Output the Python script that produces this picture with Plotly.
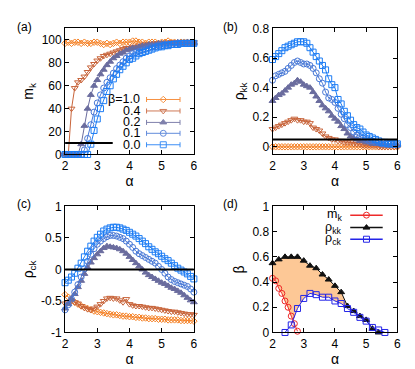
import numpy as np
import plotly.graph_objects as go

# ---------------- data ----------------
alpha = [2.0, 2.1, 2.2, 2.3, 2.4, 2.5, 2.6, 2.7, 2.8, 2.9, 3.0, 3.1, 3.2, 3.3, 3.4, 3.5, 3.6, 3.7, 3.8, 3.9,
         4.0, 4.1, 4.2, 4.3, 4.4, 4.5, 4.6, 4.7, 4.8, 4.9, 5.0, 5.1, 5.2, 5.3, 5.4, 5.5, 5.6, 5.7, 5.8, 5.9, 6.0]
betas = ["1.0", "0.4", "0.2", "0.1", "0.0"]

# (a) m_k
mk_b10 = [97, 98, 97, 98, 98, 97, 98, 97, 97, 98, 98, 97, 96, 97, 96, 97, 98, 97, 98, 98,
          98, 99, 99, 98, 98, 97, 98, 98, 98, 97, 98, 98, 99, 98, 98, 97, 98, 98, 98, 97, 97]
mk_b04 = [0, 0, 40, 58, 63, 65, 68, 72, 76, 79, 82, 84, 86, 87, 88, 89, 90, 91, 92, 93,
          93, 94, 94, 95, 95, 96, 96, 96, 97, 97, 97, 97, 97, 98, 97, 98, 98, 97, 98, 98, 98]
mk_b02 = [0, 0, 0, 0, 0, 9, 25, 40, 52, 60, 65, 70, 74, 78, 81, 84, 86, 88, 89, 91,
          92, 93, 93, 94, 95, 95, 96, 96, 96, 97, 97, 97, 97, 97, 97, 98, 97, 97, 98, 97, 97]
mk_b01 = [0, 0, 0, 0, 0, 0, 4, 14, 26, 37, 45, 52, 58, 63, 67, 71, 75, 78, 81, 84,
          86, 88, 89, 90, 91, 92, 93, 94, 94, 95, 95, 96, 96, 96, 97, 97, 97, 97, 97, 97, 97]
mk_b00 = [0, 0, 0, 0, 0, 0, 0, 0, 9, 21, 31, 40, 47, 55, 60, 66, 70, 74, 77, 80,
          83, 84, 86, 88, 89, 90, 91, 92, 93, 94, 94, 95, 95, 96, 96, 96, 97, 97, 97, 97, 97]
mk_threshold = 10
mk_threshold_end = 3.48

# (b) rho_kk
rkk_b10 = [0.0] * 41
rkk_b04 = [0.12, 0.13, 0.14, 0.15, 0.16, 0.17, 0.18, 0.19, 0.18, 0.18, 0.17, 0.17, 0.16, 0.13, 0.12, 0.11, 0.09, 0.07, 0.06, 0.05,
           0.05, 0.04, 0.04, 0.03, 0.03, 0.03, 0.02, 0.02, 0.02, 0.01, 0.01, 0.01, 0.01, 0.01, 0.0, 0.0, 0.0, 0.0, 0.0, 0.0, 0.0]
rkk_b02 = [0.31, 0.33, 0.35, 0.36, 0.38, 0.40, 0.42, 0.43, 0.45, 0.44, 0.42, 0.41, 0.40, 0.37, 0.34, 0.31, 0.28, 0.26, 0.24, 0.21,
           0.19, 0.17, 0.14, 0.12, 0.09, 0.07, 0.06, 0.05, 0.04, 0.04, 0.03, 0.03, 0.02, 0.02, 0.02, 0.015, 0.01, 0.01, 0.01, 0.01, 0.01]
rkk_b01 = [0.45, 0.48, 0.49, 0.50, 0.51, 0.53, 0.55, 0.57, 0.58, 0.57, 0.56, 0.56, 0.55, 0.53, 0.50, 0.46, 0.43, 0.37, 0.33, 0.32,
           0.30, 0.26, 0.22, 0.19, 0.15, 0.13, 0.10, 0.08, 0.07, 0.06, 0.05, 0.04, 0.04, 0.03, 0.03, 0.02, 0.02, 0.02, 0.02, 0.015, 0.015]
rkk_b00 = [0.59, 0.61, 0.63, 0.65, 0.67, 0.68, 0.69, 0.70, 0.71, 0.71, 0.71, 0.70, 0.67, 0.64, 0.61, 0.58, 0.55, 0.52, 0.46, 0.42,
           0.40, 0.32, 0.29, 0.24, 0.21, 0.18, 0.15, 0.13, 0.12, 0.10, 0.08, 0.07, 0.06, 0.05, 0.04, 0.03, 0.03, 0.02, 0.02, 0.02, 0.02]
rkk_threshold = 0.05

# (c) rho_ck
rck_b10 = [-0.40, -0.44, -0.48, -0.52, -0.55, -0.58, -0.60, -0.62, -0.64, -0.66, -0.67, -0.68, -0.69, -0.70, -0.71, -0.72, -0.72, -0.73, -0.74, -0.74,
           -0.75, -0.75, -0.76, -0.76, -0.77, -0.77, -0.78, -0.78, -0.78, -0.79, -0.79, -0.79, -0.80, -0.80, -0.80, -0.80, -0.81, -0.81, -0.81, -0.81, -0.82]
rck_b04 = [-0.54, -0.52, -0.50, -0.52, -0.54, -0.58, -0.61, -0.63, -0.64, -0.62, -0.59, -0.55, -0.50, -0.46, -0.45, -0.46, -0.46, -0.49, -0.52, -0.47,
           -0.55, -0.57, -0.58, -0.58, -0.59, -0.60, -0.61, -0.61, -0.62, -0.63, -0.64, -0.65, -0.66, -0.67, -0.67, -0.68, -0.69, -0.70, -0.71, -0.71, -0.72]
rck_b02 = [-0.62, -0.55, -0.47, -0.39, -0.28, -0.18, -0.07, 0.03, 0.11, 0.18, 0.24, 0.29, 0.34, 0.37, 0.36, 0.35, 0.34, 0.32, 0.29, 0.25,
           0.20, 0.15, 0.10, 0.05, 0.0, -0.05, -0.09, -0.12, -0.15, -0.18, -0.21, -0.23, -0.26, -0.29, -0.31, -0.34, -0.37, -0.41, -0.45, -0.49, -0.52]
rck_b01 = [-0.64, -0.56, -0.47, -0.36, -0.24, -0.12, 0.01, 0.13, 0.24, 0.33, 0.40, 0.45, 0.49, 0.52, 0.54, 0.54, 0.53, 0.51, 0.49, 0.45,
           0.40, 0.35, 0.29, 0.25, 0.22, 0.19, 0.16, 0.13, 0.10, 0.05, 0.0, -0.06, -0.12, -0.16, -0.19, -0.21, -0.23, -0.25, -0.27, -0.31, -0.36]
rck_b00 = [-0.21, -0.17, -0.12, -0.06, 0.02, 0.10, 0.20, 0.29, 0.37, 0.45, 0.51, 0.56, 0.61, 0.64, 0.66, 0.67, 0.67, 0.66, 0.64, 0.62,
           0.59, 0.56, 0.53, 0.49, 0.45, 0.41, 0.36, 0.32, 0.28, 0.25, 0.21, 0.17, 0.14, 0.10, 0.06, 0.02, -0.01, -0.04, -0.07, -0.11, -0.15]
rck_threshold = 0.0

# (d) phase boundaries
d_mk_alpha = [2.0, 2.1, 2.2, 2.3, 2.4, 2.5, 2.6, 2.7, 2.8]
d_mk_beta = [0.43, 0.41, 0.35, 0.31, 0.25, 0.20, 0.13, 0.07, 0.01]
d_rkk_alpha = [2.0, 2.2, 2.4, 2.6, 2.8, 3.0, 3.2, 3.4, 3.6, 3.8, 4.0, 4.2, 4.4, 4.6, 4.8, 5.0, 5.2, 5.4]
d_rkk_beta = [0.55, 0.58, 0.60, 0.60, 0.60, 0.57, 0.53, 0.51, 0.46, 0.42, 0.37, 0.32, 0.21, 0.17, 0.13, 0.10, 0.03, 0.0]
d_rck_alpha = [2.4, 2.6, 2.8, 3.0, 3.2, 3.4, 3.6, 3.8, 4.0, 4.2, 4.4, 4.6, 4.8, 5.0, 5.2, 5.4, 5.6]
d_rck_beta = [0.0, 0.06, 0.19, 0.27, 0.31, 0.30, 0.28, 0.28, 0.25, 0.23, 0.19, 0.16, 0.12, 0.09, 0.04, 0.02, 0.0]
d_legend = ["m<sub>k</sub>", "ρ<sub>kk</sub>", "ρ<sub>ck</sub>"]

# ---------------- styles ----------------
FONT = "Liberation Sans, Arial, Helvetica, sans-serif"
colors = {"1.0": "#f57f22", "0.4": "#c8643a", "0.2": "#6a6c9e", "0.1": "#4878d6", "0.0": "#1c7cf4"}
symbols = {"1.0": "diamond-open", "0.4": "triangle-down-open", "0.2": "triangle-up",
           "0.1": "circle-open", "0.0": "square-open"}
sizes = {"1.0": 5, "0.4": 6, "0.2": 6, "0.1": 6, "0.0": 6}

W, H = 415, 369
def px_x(a, b):
    return [a / W, b / W]
def px_y(top, bottom):
    return [1 - bottom / H, 1 - top / H]

dom = {
    1: (px_x(55, 186), px_y(14, 145)),
    2: (px_x(266, 393), px_y(14, 145)),
    3: (px_x(55, 186), px_y(199, 330)),
    4: (px_x(266, 393), px_y(199, 330)),
}

fig = go.Figure()

def add_series(k, ys_by_beta):
    for b in betas:
        fig.add_trace(go.Scatter(
            x=alpha, y=ys_by_beta[b], mode="lines+markers",
            line=dict(color=colors[b], width=1),
            marker=dict(symbol=symbols[b], size=sizes[b], color=colors[b],
                        line=dict(color=colors[b], width=1)),
            xaxis="x" if k == 1 else f"x{k}", yaxis="y" if k == 1 else f"y{k}",
            showlegend=False, cliponaxis=False))

add_series(1, {"1.0": mk_b10, "0.4": mk_b04, "0.2": mk_b02, "0.1": mk_b01, "0.0": mk_b00})
add_series(2, {"1.0": rkk_b10, "0.4": rkk_b04, "0.2": rkk_b02, "0.1": rkk_b01, "0.0": rkk_b00})
add_series(3, {"1.0": rck_b10, "0.4": rck_b04, "0.2": rck_b02, "0.1": rck_b01, "0.0": rck_b00})

# ---- (d) filled region: between rho_kk (top) and max(m_k, rho_ck) (bottom)
ra, rb = np.array(d_mk_alpha), np.array(d_mk_beta)
ba, bb = np.array(d_rck_alpha), np.array(d_rck_beta)
ka, kb = np.array(d_rkk_alpha), np.array(d_rkk_beta)
grid = np.linspace(max(ra.min(), ba.min()), min(ra.max(), ba.max()), 2001)
diff = np.interp(grid, ra, rb) - np.interp(grid, ba, bb)
ix = np.where(np.diff(np.sign(diff)) != 0)[0][0]
a_int = grid[ix]
b_int = float(np.interp(a_int, ra, rb))
a_end = 4.4
top_mask = ka <= a_end
blue_mask = (ba > a_int) & (ba <= a_end)
red_mask = ra < a_int
poly_x = list(ka[top_mask]) + list(ba[blue_mask][::-1]) + [a_int] + list(ra[red_mask][::-1])
poly_y = list(kb[top_mask]) + list(bb[blue_mask][::-1]) + [b_int] + list(rb[red_mask][::-1])
fig.add_trace(go.Scatter(x=poly_x, y=poly_y, fill="toself", fillcolor="#fdc896",
                         line=dict(width=0), mode="lines", hoverinfo="skip",
                         xaxis="x4", yaxis="y4", showlegend=False))

d_styles = [
    (d_mk_alpha, d_mk_beta, "#ee2a2a", "circle-open", 6),
    (d_rkk_alpha, d_rkk_beta, "#111111", "triangle-up", 6),
    (d_rck_alpha, d_rck_beta, "#2424e8", "square-open", 6),
]
for xs, ys, c, s, sz in d_styles:
    fig.add_trace(go.Scatter(x=xs, y=ys, mode="lines+markers",
                             line=dict(color=c, width=1),
                             marker=dict(symbol=s, size=sz, color=c, line=dict(color=c, width=1)),
                             xaxis="x4", yaxis="y4", showlegend=False, cliponaxis=False))

# ---------------- manual legends ----------------
leg_a_y = [48, 38, 28, 18.5, 8.5]
leg_a_xc, leg_a_half, leg_a_text_x = 5.05, 0.52, 4.36
annotations = []
for b, yy in zip(betas, leg_a_y):
    fig.add_trace(go.Scatter(x=[leg_a_xc], y=[yy], mode="markers",
                             marker=dict(symbol=symbols[b], size=sizes[b], color=colors[b],
                                         line=dict(color=colors[b], width=1)),
                             error_x=dict(type="constant", value=leg_a_half, color=colors[b],
                                          thickness=1, width=2.5),
                             xaxis="x", yaxis="y", showlegend=False, opacity=0.85))
    annotations.append(dict(x=leg_a_text_x, y=yy, xref="x", yref="y",
                            text=("β=" + b) if b == "1.0" else b, showarrow=False,
                            xanchor="right", yanchor="middle", borderpad=0,
                            font=dict(family=FONT, size=12.5, color="black")))

leg_d_y = [0.931, 0.832, 0.740]
leg_d_x0, leg_d_x1, leg_d_text_x = 4.49, 5.53, 4.25
for (xs, ys, c, s, sz), label, yy in zip(d_styles, d_legend, leg_d_y):
    fig.add_trace(go.Scatter(x=[leg_d_x0, leg_d_x1], y=[yy, yy], mode="lines",
                             line=dict(color=c, width=1.5), xaxis="x4", yaxis="y4", showlegend=False))
    fig.add_trace(go.Scatter(x=[(leg_d_x0 + leg_d_x1) / 2], y=[yy], mode="markers",
                             marker=dict(symbol=s, size=sz, color=c, line=dict(color=c, width=1)),
                             xaxis="x4", yaxis="y4", showlegend=False))
    annotations.append(dict(x=leg_d_text_x, y=yy, xref="x4", yref="y4", text=label,
                            showarrow=False, xanchor="right", yanchor="middle", borderpad=0,
                            font=dict(family=FONT, size=12.5, color="black")))

# panel labels
for lab, xx, yy in [("(a)", 4, 12), ("(b)", 214, 12), ("(c)", 4, 196), ("(d)", 214, 196)]:
    annotations.append(dict(x=xx / W, y=1 - yy / H, xref="paper", yref="paper", text=lab,
                            showarrow=False, xanchor="left", yanchor="middle",
                            font=dict(family=FONT, size=12, color="black")))

# threshold lines
shapes = [
    dict(type="line", xref="x", yref="y", x0=2, x1=mk_threshold_end, y0=mk_threshold, y1=mk_threshold,
         line=dict(color="black", width=2)),
    dict(type="line", xref="x2", yref="y2", x0=2, x1=6, y0=rkk_threshold, y1=rkk_threshold,
         line=dict(color="black", width=2)),
    dict(type="line", xref="x3", yref="y3", x0=2, x1=6, y0=rck_threshold, y1=rck_threshold,
         line=dict(color="black", width=2)),
]

def xax(k):
    return dict(domain=dom[k][0], range=[2, 6], tickvals=[2, 3, 4, 5, 6],
                ticks="inside", ticklen=4, tickcolor="black", showline=True, linecolor="black",
                linewidth=1, mirror="allticks", showgrid=False, zeroline=False,
                anchor="y" if k == 1 else f"y{k}",
                title=dict(text="α", font=dict(family=FONT, size=14), standoff=0),
                tickfont=dict(family=FONT, size=12))

def yax(k, rng, tv, ttl, tt=None):
    d = dict(domain=dom[k][1], range=rng, tickvals=tv,
             ticks="inside", ticklen=4, tickcolor="black", showline=True, linecolor="black",
             linewidth=1, mirror="allticks", showgrid=False, zeroline=False,
             anchor="x" if k == 1 else f"x{k}",
             title=dict(text=ttl, font=dict(family=FONT, size=14), standoff=4),
             tickfont=dict(family=FONT, size=12))
    if tt is not None:
        d["ticktext"] = tt
    return d

fig.update_layout(
    width=W, height=H, autosize=False,
    margin=dict(l=0, r=0, t=0, b=0),
    paper_bgcolor="white", plot_bgcolor="white",
    font=dict(family=FONT, size=12, color="black"),
    xaxis=xax(1), xaxis2=xax(2), xaxis3=xax(3), xaxis4=xax(4),
    yaxis=yax(1, [0, 110], [0, 20, 40, 60, 80, 100], "m<sub>k</sub>"),
    yaxis2=yax(2, [-0.052, 0.8], [0, 0.2, 0.4, 0.6, 0.8], "ρ<sub>kk</sub>", ["0", "0.2", "0.4", "0.6", "0.8"]),
    yaxis3=yax(3, [-1, 1], [-1, -0.5, 0, 0.5, 1], "ρ<sub>ck</sub>", ["-1", "-0.5", "0", "0.5", "1"]),
    yaxis4=yax(4, [0, 1], [0, 0.2, 0.4, 0.6, 0.8, 1], "β", ["0", "0.2", "0.4", "0.6", "0.8", "1"]),
    annotations=annotations, shapes=shapes,
)

fig.write_html("out.html")
